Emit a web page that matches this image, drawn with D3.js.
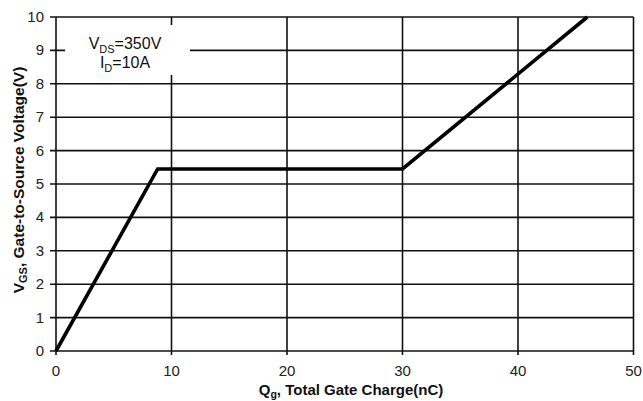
<!DOCTYPE html>
<html><head><meta charset="utf-8">
<script src="https://cdn.jsdelivr.net/npm/d3@7"></script>
<style>body{margin:0;background:#fff}svg{display:block}</style>
</head><body>
<script>
const qg = [0, 8.8, 30, 46];
const vgs = [0, 5.45, 5.45, 10];
const xTicks = [0, 10, 20, 30, 40, 50];
const yTicks = [0, 1, 2, 3, 4, 5, 6, 7, 8, 9, 10];

const W = 643, H = 401;
const m = {l: 56, r: 10, t: 17, b: 50};
const svg = d3.select("body").append("svg").attr("width", W).attr("height", H)
  .style("font-family", "Liberation Sans, Arial, sans-serif");
const x = d3.scaleLinear().domain([0, 50]).range([m.l, 633.5]);
const y = d3.scaleLinear().domain([0, 10]).range([351, m.t]);

// grid
const g = svg.append("g");
g.selectAll(".vg").data(xTicks).enter().append("line")
  .attr("x1", d => x(d)).attr("x2", d => x(d)).attr("y1", y(10)).attr("y2", y(0) + 4)
  .attr("stroke", "#111").attr("stroke-width", 1.6);
g.selectAll(".hg").data(yTicks).enter().append("line")
  .attr("x1", x(0) - 6).attr("x2", x(50)).attr("y1", d => y(d)).attr("y2", d => y(d))
  .attr("stroke", "#111").attr("stroke-width", 1.6);

// annotation box
svg.append("rect").attr("x", 65).attr("y", 25).attr("width", 125).attr("height", 50).attr("fill", "#fff");
const t1 = svg.append("text").attr("x", 125).attr("y", 49).attr("text-anchor", "middle").attr("font-size", 16).attr("fill", "#111");
t1.append("tspan").text("V");
t1.append("tspan").attr("font-size", 11).attr("dy", 4).text("DS");
t1.append("tspan").attr("dy", -4).text("=350V");
const t2 = svg.append("text").attr("x", 125).attr("y", 68).attr("text-anchor", "middle").attr("font-size", 16).attr("fill", "#111");
t2.append("tspan").text("I");
t2.append("tspan").attr("font-size", 11).attr("dy", 4).text("D");
t2.append("tspan").attr("dy", -4).text("=10A");

// curve
const pts = qg.map((q, i) => [q, vgs[i]]);
svg.append("path").datum(pts)
  .attr("d", d3.line().x(d => x(d[0])).y(d => y(d[1])))
  .attr("fill", "none").attr("stroke", "#000").attr("stroke-width", 3.6)
  .attr("stroke-linejoin", "miter");

// tick labels
svg.selectAll(".xt").data(xTicks).enter().append("text")
  .attr("x", d => x(d)).attr("y", 376).attr("text-anchor", "middle")
  .attr("font-size", 15).attr("fill", "#222").text(d => d);
svg.selectAll(".yt").data(yTicks).enter().append("text")
  .attr("x", 44).attr("y", d => y(d) + 5).attr("text-anchor", "end")
  .attr("font-size", 15).attr("fill", "#222").text(d => d);

// axis titles
const xl = svg.append("text").attr("x", 351).attr("y", 395).attr("text-anchor", "middle")
  .attr("font-size", 15).attr("font-weight", "bold").attr("fill", "#111");
xl.append("tspan").text("Q");
xl.append("tspan").attr("font-size", 10.5).attr("dy", 3).text("g");
xl.append("tspan").attr("dy", -3).text(", Total Gate Charge(nC)");

const yl = svg.append("text").attr("transform", "translate(24,180) rotate(-90)").attr("text-anchor", "middle")
  .attr("font-size", 15.5).attr("font-weight", "bold").attr("fill", "#111");
yl.append("tspan").text("V");
yl.append("tspan").attr("font-size", 11).attr("dy", 3).text("GS");
yl.append("tspan").attr("dy", -3).text(", Gate-to-Source Voltage(V)");
</script>
</body></html>
